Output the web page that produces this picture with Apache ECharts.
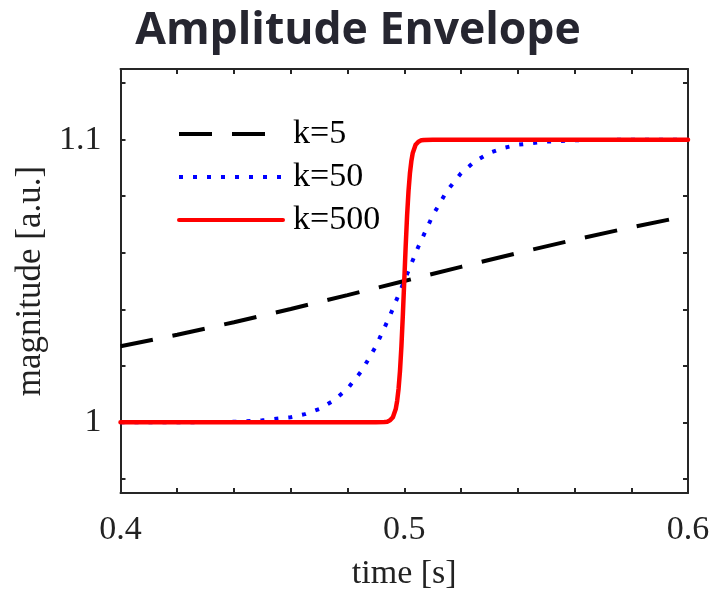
<!DOCTYPE html>
<html>
<head>
<meta charset="utf-8">
<script src="https://cdn.jsdelivr.net/npm/echarts@6/dist/echarts.min.js"></script>
<style>
  html, body { margin: 0; padding: 0; background: #fff; }
  #chart { width: 716px; height: 590px; }
</style>
</head>
<body>
<div id="chart"></div>
<script>
// Sigmoid amplitude envelopes for three steepness values, sampled as [time, magnitude]
const seriesNames = ['k=5', 'k=50', 'k=500'];

const envK5 = [
  [0.40, 1.0269], [0.42, 1.0310], [0.44, 1.0354], [0.46, 1.0401], [0.48, 1.0450],
  [0.50, 1.0500], [0.52, 1.0550], [0.54, 1.0599], [0.56, 1.0646], [0.58, 1.0690],
  [0.60, 1.0731]
];

const envK50 = [
  [0.40, 1.0000], [0.42, 1.0000], [0.44, 1.0002], [0.45, 1.0007], [0.46, 1.0018],
  [0.465, 1.0029], [0.47, 1.0047], [0.475, 1.0076], [0.48, 1.0119], [0.485, 1.0182],
  [0.49, 1.0269], [0.495, 1.0378], [0.50, 1.0500], [0.505, 1.0622], [0.51, 1.0731],
  [0.515, 1.0818], [0.52, 1.0881], [0.525, 1.0924], [0.53, 1.0953], [0.535, 1.0971],
  [0.54, 1.0982], [0.55, 1.0993], [0.56, 1.0998], [0.58, 1.1000], [0.60, 1.1000]
];

const envK500 = [
  [0.40, 1.0000], [0.49, 1.0000], [0.493, 1.0001], [0.494, 1.0002], [0.495, 1.0007],
  [0.496, 1.0018], [0.497, 1.0047], [0.4975, 1.0076], [0.498, 1.0119], [0.4985, 1.0182],
  [0.499, 1.0269], [0.4995, 1.0378], [0.500, 1.0500], [0.5005, 1.0622], [0.501, 1.0731],
  [0.5015, 1.0818], [0.502, 1.0881], [0.5025, 1.0924], [0.503, 1.0953], [0.504, 1.0982],
  [0.505, 1.0993], [0.506, 1.0998], [0.507, 1.0999], [0.51, 1.1000], [0.60, 1.1000]
];

// Tick positions and labelled ticks
const xTicks = [0.40, 0.42, 0.44, 0.46, 0.48, 0.50, 0.52, 0.54, 0.56, 0.58, 0.60];
const xTickLabels = [0.4, 0.5, 0.6];
const yTicks = [0.98, 1.00, 1.02, 1.04, 1.06, 1.08, 1.10, 1.12];
const yTickLabels = [1, 1.1];

const serif = 'Liberation Serif';
const axisColor = '#262626';
const textColor = '#222222';

function frameAxis(extra) {
  return Object.assign({
    type: 'value',
    axisLine: { show: true, onZero: false, lineStyle: { color: axisColor, width: 2 } },
    axisTick: { show: true, inside: true, length: 5, lineStyle: { color: axisColor, width: 2 } },
    splitLine: { show: false },
    axisLabel: { show: false }
  }, extra);
}

const chart = echarts.init(document.getElementById('chart'), null, { renderer: 'canvas' });

chart.setOption({
  animation: false,
  backgroundColor: '#ffffff',
  title: {
    text: 'Amplitude Envelope',
    left: 'center',
    top: 4,
    textStyle: { fontFamily: 'Open Sans', fontWeight: 'bold', fontSize: 44.5, color: '#262630' }
  },
  grid: { left: 120.5, right: 28, top: 69, bottom: 97, containLabel: false, outerBoundsMode: 'none' },
  legend: {
    orient: 'vertical',
    left: 177,
    top: 117,
    padding: 0,
    itemWidth: 104,
    itemHeight: 14,
    itemGap: 9,
    selectedMode: false,
    data: seriesNames,
    itemStyle: { opacity: 0 },
    lineStyle: { width: 4 },
    textStyle: { fontFamily: serif, fontSize: 34, color: '#000', lineHeight: 34, padding: [0, 0, 0, 5] }
  },
  xAxis: [
    frameAxis({
      position: 'bottom', min: 0.4, max: 0.6,
      axisTick: { show: true, inside: true, length: 5, customValues: xTicks, lineStyle: { color: axisColor, width: 2 } },
      axisLabel: { show: true, customValues: xTickLabels, margin: 20, fontFamily: serif, fontSize: 34, color: textColor },
      name: 'time [s]', nameLocation: 'middle', nameGap: 64,
      nameTextStyle: { fontFamily: serif, fontSize: 34, color: textColor }
    }),
    frameAxis({
      position: 'top', min: 0.4, max: 0.6,
      axisTick: { show: true, inside: true, length: 5, customValues: xTicks, lineStyle: { color: axisColor, width: 2 } }
    })
  ],
  yAxis: [
    frameAxis({
      position: 'left', min: 0.975, max: 1.125,
      axisTick: { show: true, inside: true, length: 5, customValues: yTicks, lineStyle: { color: axisColor, width: 2 } },
      axisLabel: { show: true, customValues: yTickLabels, margin: 19, fontFamily: serif, fontSize: 34, color: textColor },
      name: 'magnitude [a.u.]', nameLocation: 'middle', nameGap: 72,
      nameTextStyle: { fontFamily: serif, fontSize: 35, color: textColor }
    }),
    frameAxis({
      position: 'right', min: 0.975, max: 1.125,
      axisTick: { show: true, inside: true, length: 5, customValues: yTicks, lineStyle: { color: axisColor, width: 2 } }
    })
  ],
  series: [
    {
      name: seriesNames[0], type: 'line', data: envK5, showSymbol: false, symbol: 'none',
      lineStyle: { color: '#000000', width: 4, type: [33, 20], cap: 'butt' },
      itemStyle: { color: '#000000' }, z: 3
    },
    {
      name: seriesNames[1], type: 'line', data: envK50, showSymbol: false, symbol: 'none',
      lineStyle: { color: '#0000ff', width: 4, type: [4, 10], cap: 'butt' },
      itemStyle: { color: '#0000ff' }, z: 2
    },
    {
      name: seriesNames[2], type: 'line', data: envK500, showSymbol: false, symbol: 'none',
      lineStyle: { color: '#ff0000', width: 4.5, join: 'round', cap: 'round' },
      itemStyle: { color: '#ff0000' }, z: 4
    }
  ]
});
</script>
</body>
</html>
